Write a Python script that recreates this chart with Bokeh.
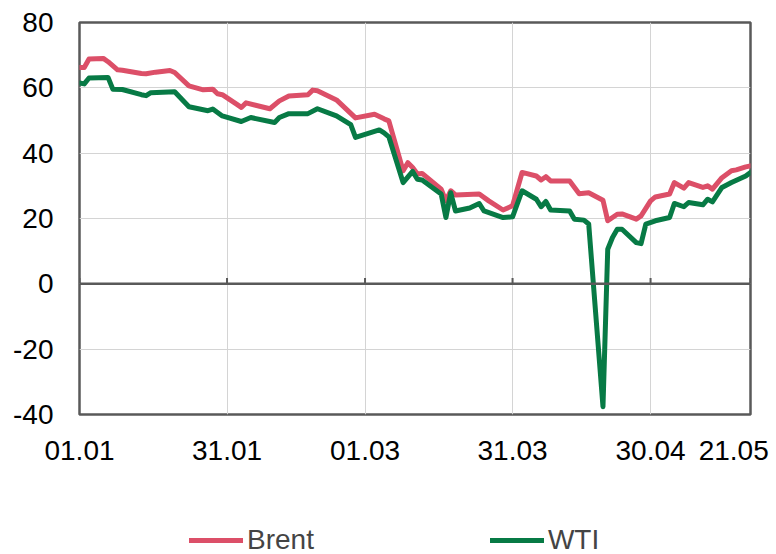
from bokeh.plotting import figure
from bokeh.layouts import column
from bokeh.models import Range1d, FixedTicker, Span, Legend, LegendItem
from bokeh.embed import file_html
from bokeh.resources import INLINE

# ---- data (x = position along the date axis, in days from 01.01) ----
x_ticks = [0, 31, 60, 91, 120, 141]
x_labels = ["01.01", "31.01", "01.03", "31.03", "30.04", "21.05"]
y_ticks = [-40, -20, 0, 20, 40, 60, 80]
y_labels = ["-40", "-20", "0", "20", "40", "60", "80"]
series_names = ["Brent", "WTI"]

brent_x = [0, 1, 2, 5, 6, 8, 9, 13, 14, 16, 19, 20, 23, 26, 28, 29, 30, 33, 34, 35,
           40, 42, 44, 48, 49, 50, 54, 58, 62, 64, 65, 68, 69, 70, 71, 72, 76, 77, 78, 79,
           84, 86, 89, 91, 93, 96, 97, 98, 99, 103, 105, 107, 110, 111, 113, 114, 117, 118,
           120, 121, 124, 125, 127, 128, 131, 132, 133, 135, 137, 138, 140, 141]
brent = [66.2, 66.2, 68.8, 69.0, 68.0, 65.5, 65.4, 64.4, 64.3, 64.8, 65.3, 64.7, 60.6, 59.4,
         59.6, 58.2, 57.9, 55.0, 54.0, 55.4, 53.6, 56.0, 57.5, 57.9, 59.3, 59.1, 56.3, 50.8,
         51.9, 50.5, 49.9, 34.6, 37.1, 35.6, 33.6, 33.8, 29.0, 25.4, 28.5, 27.2, 27.5, 25.4,
         22.6, 23.9, 34.1, 33.0, 31.8, 32.8, 31.5, 31.5, 27.6, 27.9, 25.6, 19.3, 21.3, 21.4,
         19.8, 20.8, 25.4, 26.6, 27.5, 31.0, 29.3, 31.0, 29.5, 30.0, 29.0, 32.5, 34.6, 34.9,
         35.8, 36.1]

wti_x = [0, 1, 2, 6, 7, 9, 13, 14, 15, 20, 23, 27, 28, 30, 34, 36, 41, 42, 44, 48, 50, 54,
         57, 58, 63, 64, 65, 68, 70, 71, 72, 76, 77, 78, 79, 82, 84, 85, 89, 91, 93, 96, 97,
         98, 99, 103, 104, 106, 107, 110, 111, 112, 113, 114, 117, 118, 119, 121, 124, 125,
         127, 128, 131, 132, 133, 135, 137, 140, 141]
wti = [61.5, 61.2, 63.0, 63.2, 59.6, 59.5, 57.9, 57.6, 58.5, 58.8, 54.2, 53.0, 53.5, 51.4,
       49.7, 50.9, 49.4, 50.9, 52.1, 52.1, 53.6, 51.4, 48.7, 44.8, 47.1, 46.2, 45.0, 31.0,
       34.4, 32.0, 31.8, 27.5, 20.3, 27.9, 22.3, 23.2, 24.6, 22.3, 20.3, 20.5, 28.5, 25.9,
       23.6, 25.2, 22.6, 22.3, 19.8, 19.5, 18.3, -37.6, 10.6, 14.2, 16.7, 16.7, 12.6, 12.3,
       18.3, 19.3, 20.3, 24.6, 23.6, 24.9, 24.2, 25.9, 25.1, 29.5, 31.0, 33.0, 34.1]

BRENT_COLOR = "#DC4F68"
WTI_COLOR = "#077A45"
AXIS_COLOR = "#595959"
GRID_COLOR = "#D4D4D4"
FONT = "Liberation Sans"
LW = 5

p = figure(width=776, height=514, output_backend="svg", toolbar_location=None,
           x_range=Range1d(x_ticks[0], x_ticks[-1]), y_range=Range1d(y_ticks[0], y_ticks[-1]),
           min_border_left=79, min_border_right=26, min_border_top=22, min_border_bottom=100)

p.background_fill_color = "white"
p.border_fill_color = "white"
p.outline_line_color = AXIS_COLOR
p.outline_line_width = 2.5

# axes
xl = dict(zip(x_ticks, x_labels))
xl[x_ticks[-1]] = x_labels[-1] + "\u00a0"
p.xaxis.ticker = FixedTicker(ticks=x_ticks)
p.xaxis.major_label_overrides = xl
p.yaxis.ticker = FixedTicker(ticks=y_ticks)
p.yaxis.major_label_overrides = dict(zip(y_ticks, y_labels))
for ax in (p.xaxis, p.yaxis):
    ax.axis_line_color = None
    ax.major_tick_line_color = None
    ax.minor_tick_line_color = None
    ax.major_tick_out = 0
    ax.major_tick_in = 0
    ax.minor_tick_out = 0
    ax.major_label_text_font = FONT
    ax.major_label_text_font_size = "28px"
    ax.major_label_text_color = "black"
p.xaxis.major_label_standoff = 20
p.yaxis.major_label_standoff = 26

p.xgrid.ticker = FixedTicker(ticks=x_ticks)
p.ygrid.ticker = FixedTicker(ticks=y_ticks)
p.grid.grid_line_color = GRID_COLOR
p.grid.grid_line_width = 1

# zero line with tick marks
p.add_layout(Span(location=0, dimension="width", line_color=AXIS_COLOR, line_width=2.5))
p.segment(x0=x_ticks, y0=[0] * len(x_ticks), x1=x_ticks, y1=[1.8] * len(x_ticks),
          line_color=AXIS_COLOR, line_width=2)

p.line(brent_x, brent, line_color=BRENT_COLOR, line_width=LW,
       line_join="round", line_cap="round")
p.line(wti_x, wti, line_color=WTI_COLOR, line_width=LW,
       line_join="round", line_cap="round")

# legend strip below the chart (legend-only renderers hold no visible data)
nan = float("nan")
lg = figure(width=776, height=40, output_backend="svg", toolbar_location=None,
            x_range=Range1d(0, 1), y_range=Range1d(0, 1),
            min_border_left=0, min_border_right=0, min_border_top=0, min_border_bottom=0)
lg.axis.visible = False
lg.grid.visible = False
lg.outline_line_color = None
lg.background_fill_color = "white"
lg.border_fill_color = "white"
lr1 = lg.line(x=[nan, nan], y=[nan, nan], line_color=BRENT_COLOR, line_width=LW, line_cap="round")
lr2 = lg.line(x=[nan, nan], y=[nan, nan], line_color=WTI_COLOR, line_width=LW, line_cap="round")
legend = Legend(items=[LegendItem(label=series_names[0], renderers=[lr1]),
                       LegendItem(label=series_names[1], renderers=[lr2])],
                orientation="horizontal", location=(110, -2),
                glyph_width=54, glyph_height=28, label_standoff=4, spacing=176,
                padding=0, margin=0, border_line_color=None, background_fill_alpha=0,
                label_text_font=FONT, label_text_font_size="28px", label_height=28)
lg.add_layout(legend, "center")

layout = column(p, lg, spacing=0)
open("out.html", "w").write(file_html(layout, INLINE))
